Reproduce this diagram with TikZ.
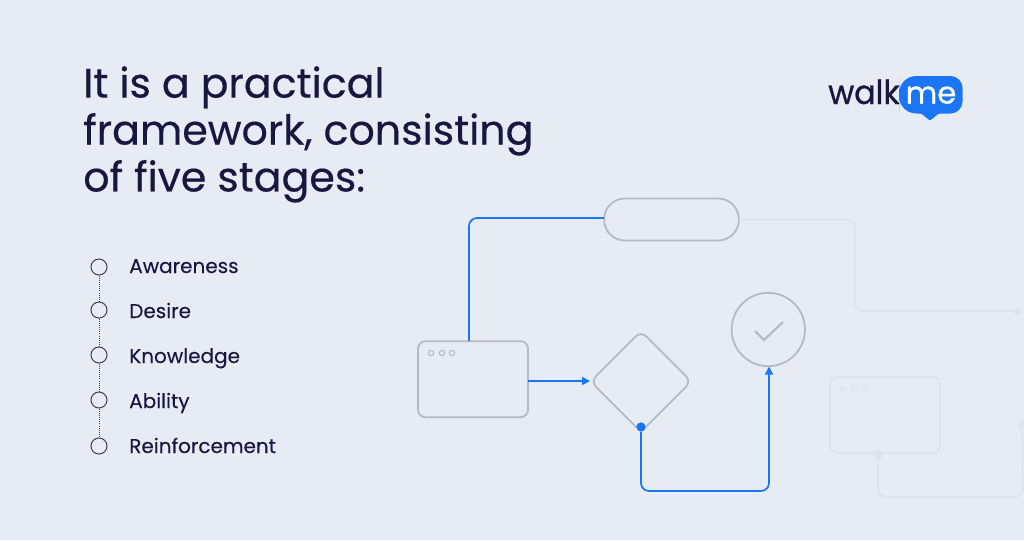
\documentclass[tikz,border=0pt]{standalone}
\usepackage{fontspec}
\setmainfont{Poppins}
\newfontfamily\titlef[FakeBold=0.35]{Poppins}
\newfontfamily\listf[FakeBold=0.15]{Poppins}
\newfontfamily\logof[FakeBold=0.8]{Poppins}
\usetikzlibrary{shapes.geometric,arrows.meta}
\definecolor{bg}{HTML}{E7EBF3}
\definecolor{navy}{HTML}{17173F}
\definecolor{shapec}{HTML}{B6BAC8}
\definecolor{flow}{HTML}{1A76F5}
\definecolor{faint}{HTML}{DEE2EB}
\definecolor{listc}{HTML}{3C3F5E}
\tikzset{
  shapebox/.style={draw=shapec,line width=1.35pt,inner sep=0pt},
  winbox/.style={shapebox,rectangle,rounded corners=5.5pt,minimum width=82.5pt,minimum height=57pt},
  winfaint/.style={winbox,draw=faint,line width=1.2pt},
  windot/.style={circle,draw=shapec,line width=.8pt,minimum size=4pt,inner sep=0pt},
  faintdot/.style={windot,draw=faint},
  flowline/.style={draw=flow,line width=1.3pt,rounded corners=6pt},
  faintline/.style={draw=faint,line width=1.2pt,rounded corners=6pt},
  flowtip/.style={-{Triangle[length=6pt,width=6pt]}},
  startdot/.style={circle,fill=flow,minimum size=7pt,inner sep=0pt},
  faintstart/.style={circle,fill=faint,minimum size=7pt,inner sep=0pt},
  bullet/.style={circle,draw=listc,line width=.75pt,minimum size=12pt,inner sep=0pt},
  listlabel/.style={anchor=base west,inner sep=0pt,text=navy,font=\listf\fontsize{15}{18}\selectfont},
  titletext/.style={anchor=north west,inner sep=0pt,align=left,text=navy,font=\titlef\fontsize{30.85}{35.2}\selectfont},
}
\begin{document}
\begin{tikzpicture}[x=.75pt,y=-.75pt]
\path[use as bounding box,fill=bg] (0,0) rectangle (1024,540);
\node[titletext] (title) at (83,66) {It is a practical\\framework, consisting\\of five stages:};
% list
\node[bullet] (b1) at (99,267) {};
\node[bullet] (b2) at (99,310) {};
\node[bullet] (b3) at (99,355) {};
\node[bullet] (b4) at (99,400) {};
\node[bullet] (b5) at (99,446) {};
\draw[listc,line width=.6pt,densely dotted] (b1) -- (b2);
\draw[listc,line width=.6pt,densely dotted] (b2) -- (b3);
\draw[listc,line width=.6pt,densely dotted] (b3) -- (b4);
\draw[listc,line width=.6pt,densely dotted] (b4) -- (b5);
\node[listlabel] (l1) at (129,273) {Awareness};
\node[listlabel] (l2) at (129,318) {Desire};
\node[listlabel] (l3) at (129,363) {Knowledge};
\node[listlabel] (l4) at (129,408) {Ability};
\node[listlabel] (l5) at (129,453) {Reinforcement};
% logo
\fill[flow,rounded corners=13pt] (899,95) -- (899,76) [rounded corners=9pt] -- (962.5,76) -- (962.5,113.5) [rounded corners=.8pt] -- (939,113.5) -- (930,120.5) -- (921,113.5) [rounded corners=13pt] -- (899,113.5) -- cycle;
\node[anchor=base west,inner sep=0pt,text=navy,font=\logof\fontsize{25}{30}\selectfont] (walk) at (828,104) {\scalebox{.95}[1]{walk}};
\node[anchor=base,inner sep=0pt,text=white,font=\logof\fontsize{23}{30}\selectfont] (me) at (931,103.5) {me};
% faint layer
\node[winfaint] (win2) at (885,415) {};
\node[faintdot] (w2a) at (843,389) {};
\node[faintdot] (w2b) at (854,389) {};
\node[faintdot] (w2c) at (865,389) {};
\node[faintstart] (start2) at (878,455) {};
\coordinate (end2) at (1022,420);
\coordinate (end1) at (1023,311);
% main shapes
\node[shapebox,rectangle,rounded corners=15.5pt,minimum width=101pt,minimum height=31.5pt] (pill) at (671.5,219.5) {};
\node[winbox] (win) at (473,379.2) {};
\node[windot] (wa) at (431,353) {};
\node[windot] (wb) at (442,353) {};
\node[windot] (wc) at (452,353) {};
\node[shapebox,diamond,rounded corners=5.5pt,minimum width=76pt,minimum height=76pt] (dec) at (641,381.5) {};
\node[shapebox,circle,minimum size=55pt] (ok) at (768.3,329.5) {};
\coordinate (ck1) at (755,331);
\coordinate (ck2) at (764,340);
\coordinate (ck3) at (783,322);
\draw[shapec,line width=1.6pt] (ck1) -- (ck2) -- (ck3);
% connectors
\coordinate (wintop) at (469,341);
\coordinate (pillw) at (604,218);
\coordinate (wine) at (528,381);
\coordinate (decw) at (590,381);
\draw[flowline] (wintop) -- (469,218) -- (pillw);
\draw[flowline,flowtip,rounded corners=0pt] (wine) -- (decw);
\node[startdot] (start) at (641,427) {};
\draw[flowline,flowtip] (start) -- (641,491) -- (769,491) -- (769,366.5);
\draw[faintline,flowtip] (pill.east) -- (855,219.5) -- (855,311) -- (end1);
\draw[faintline,flowtip] (start2) -- (878,497) -- (1023,497) -- (end2);
\end{tikzpicture}
\end{document}
